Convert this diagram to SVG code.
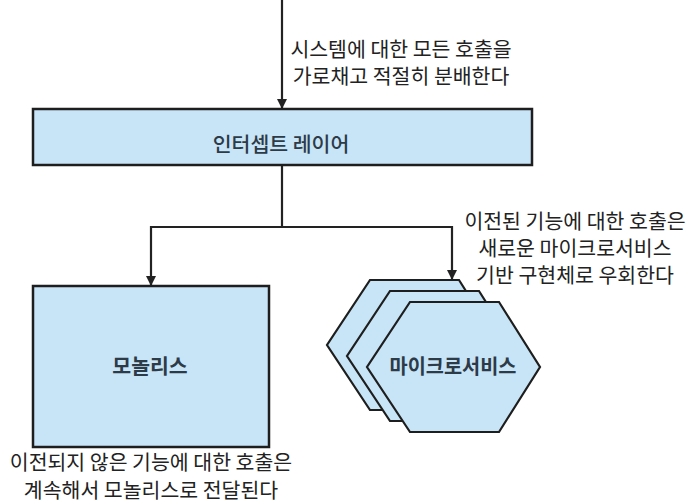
<svg xmlns="http://www.w3.org/2000/svg" width="692" height="504" viewBox="0 0 692 504">
<defs>
<marker id="arr" markerWidth="10" markerHeight="10" refX="9" refY="5" orient="auto" markerUnits="userSpaceOnUse">
<path d="M0,0 L10,5 L0,10 z" fill="#222"/>
</marker>
<style>
.box{fill:#c7e5f7;stroke:#1e1e1e;stroke-width:2.5}
.hex{fill:#c7e5f7;stroke:#1e1e1e;stroke-width:2.2;stroke-linejoin:miter}
.cap{font-family:"Noto Sans CJK KR","Noto Sans",sans-serif;font-size:20.5px;fill:#222;text-anchor:middle}
.lbl{font-family:"Noto Sans CJK KR","Noto Sans",sans-serif;font-size:20.5px;font-weight:500;fill:#2d3a48;text-anchor:middle}
.lblb{font-family:"Noto Sans CJK KR","Noto Sans",sans-serif;font-size:20.5px;font-weight:bold;fill:#2d3a48;text-anchor:middle}
.con{fill:none;stroke:#222;stroke-width:2.2}
</style>
</defs>
<rect width="692" height="504" fill="#fff"/>
<g id="connectors">
<path class="con" d="M282,0 V108" marker-end="url(#arr)"/>
<path class="con" d="M282,165 V227 H151 V285" marker-end="url(#arr)"/>
<path class="con" d="M282,227 H452 V279" marker-end="url(#arr)"/>
</g>
<g id="caption-top">
<text class="cap" x="401" y="57">시스템에 대한 모든 호출을</text>
<text class="cap" x="401" y="84">가로채고 적절히 분배한다</text>
</g>
<g id="intercept">
<rect class="box" x="33" y="109" width="499" height="56"/>
<text class="lbl" x="281" y="152">인터셉트 레이어</text>
</g>
<g id="monolith">
<rect class="box" x="33" y="286" width="236" height="161"/>
<text class="lblb" x="150" y="374">모놀리스</text>
</g>
<g id="microservices">
<polygon class="hex" points="370,280 459,280 500,345 459,410 370,410 327,345"/>
<polygon class="hex" points="390,291 479,291 520,356 479,421 390,421 347,356"/>
<polygon class="hex" points="410,302 499,302 540,367 499,432 410,432 367,367"/>
<text class="lblb" x="453" y="374" font-size="19" textLength="127" lengthAdjust="spacingAndGlyphs">마이크로서비스</text>
</g>
<g id="caption-right">
<text class="cap" x="575" y="229">이전된 기능에 대한 호출은</text>
<text class="cap" x="575" y="256">새로운 마이크로서비스</text>
<text class="cap" x="575" y="283">기반 구현체로 우회한다</text>
</g>
<g id="caption-bottom">
<text class="cap" x="151" y="470">이전되지 않은 기능에 대한 호출은</text>
<text class="cap" x="151" y="498">계속해서 모놀리스로 전달된다</text>
</g>
</svg>
